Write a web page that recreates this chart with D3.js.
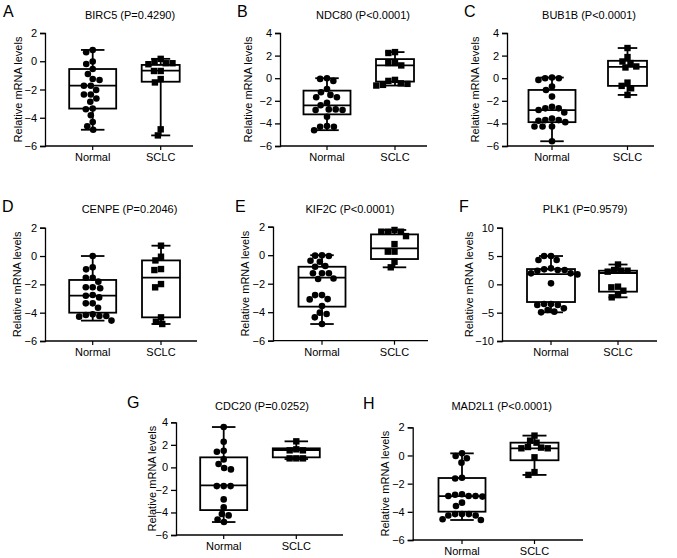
<!DOCTYPE html>
<html>
<head>
<meta charset="utf-8">
<script src="https://cdn.jsdelivr.net/npm/d3@7"></script>
<style>
  html, body { margin: 0; padding: 0; background: #fff; }
  svg { display: block; font-family: "Liberation Sans", Arial, sans-serif; }
</style>
</head>
<body>
<svg id="chart" width="677" height="558"></svg>
<script>
// ---------------- DATA ----------------
const groups = ["Normal", "SCLC"];
const panelLetters = ["A", "B", "C", "D", "E", "F", "G", "H"];
const panelTitles = [
  "BIRC5 (P=0.4290)", "NDC80 (P<0.0001)", "BUB1B (P<0.0001)",
  "CENPE (P=0.2046)", "KIF2C (P<0.0001)", "PLK1 (P=0.9579)",
  "CDC20 (P=0.0252)", "MAD2L1 (P<0.0001)"
];
const yDomains = [[-6, 2], [-6, 4], [-6, 4], [-6, 2], [-6, 2], [-10, 10], [-6, 4], [-6, 2]];
const yTicks = [
  [-6, -4, -2, 0, 2], [-6, -4, -2, 0, 2, 4], [-6, -4, -2, 0, 2, 4],
  [-6, -4, -2, 0, 2], [-6, -4, -2, 0, 2], [-10, -5, 0, 5, 10],
  [-6, -4, -2, 0, 2, 4], [-6, -4, -2, 0, 2]
];
const yLabel = "Relative mRNA levels";

// individual values per panel: [Normal, SCLC]
const normalValues = [
  [0.8, 0.64, -0.02, -0.19, -0.55, -0.9, -1.26, -1.33, -1.73, -1.73, -2.04, -2.35, -2.35, -2.64, -2.87, -3.35, -3.4, -3.82, -4.3, -4.6, -4.85],
  [0.0, -0.06, -0.24, -0.95, -1.25, -1.48, -1.69, -1.69, -2.17, -2.4, -2.76, -2.76, -2.82, -2.82, -3.41, -4.24, -4.3, -4.3, -4.6],
  [0.06, 0, 0, -0.15, -0.74, -1.04, -1.63, -2.52, -2.67, -2.67, -2.82, -3.03, -3.56, -3.71, -3.71, -3.77, -3.89, -4.27, -4.27, -4.27, -5.58],
  [0, -0.8, -0.94, -1.53, -1.53, -1.81, -2.21, -2.21, -2.28, -2.75, -2.8, -2.92, -3.34, -3.34, -3.65, -4.12, -4.16, -4.24, -4.24, -4.28, -4.56],
  [0, -0.03, -0.06, -0.39, -0.46, -0.76, -0.81, -1.27, -1.27, -1.27, -1.63, -1.67, -2.8, -2.8, -3.08, -3.1, -3.57, -4.03, -4.13, -4.36, -4.83],
  [5.0, 5.0, 4.3, 4.3, 2.82, 2.65, 2.53, 2.53, 2.41, 1.94, 1.94, 1.76, 0.18, -3.47, -3.47, -3.65, -3.65, -4.24, -4.53, -4.82, -4.94],
  [3.58, 2.28, 1.48, 1.39, 0.71, 0.3, -0.06, -0.18, -1.66, -1.66, -1.66, -2.84, -3.55, -4.14, -4.26, -4.62, -4.85],
  [0.15, -0.04, -0.2, -0.51, -1.58, -1.63, -2.75, -2.79, -2.88, -2.88, -2.88, -2.92, -3.35, -3.59, -4.16, -4.16, -4.16, -4.26, -4.26, -4.53, -4.58]
];
const sclcValues = [
  [0.17, -0.02, -0.14, -0.14, -0.21, -0.69, -0.69, -1.26, -1.5, -4.82, -5.25],
  [2.31, 2.23, 1.34, 1.34, 1.13, -0.15, -0.24, -0.45, -0.5, -0.59, -0.65],
  [2.67, 1.87, 1.48, 1.34, 1.04, 0.95, -0.39, -0.68, -0.89, -1.48],
  [0.73, -0.05, -0.31, -0.92, -0.99, -1.98, -2.21, -4.33, -4.64, -4.8],
  [1.77, 1.65, 1.65, 1.65, 1.34, 0.78, 0.25, 0.25, -0.46, -0.85],
  [3.5, 2.53, 2.41, 2.41, 2.24, -0.41, -0.53, -1.12, -1.88, -2.29],
  [2.31, 1.6, 1.51, 1.51, 0.8, 0.8, 0.8],
  [1.41, 1.05, 0.91, 0.6, 0.56, 0.51, 0.51, -0.13, -1.18, -1.38]
];
// box statistics [min, q1, median, q3, max]
const normalBoxes = [
  [-4.85, -3.35, -1.73, -0.55, 0.8],
  [-4.6, -3.2, -2.4, -1.1, 0.0],
  [-5.58, -3.89, -2.82, -1.04, 0.06],
  [-4.56, -4.0, -2.8, -1.69, 0],
  [-4.83, -3.61, -1.58, -0.81, 0],
  [-4.94, -3.12, 1.82, 2.7, 5.0],
  [-4.85, -3.79, -1.6, 0.89, 3.58],
  [-4.58, -3.99, -2.88, -1.6, 0.15]
];
const sclcBoxes = [
  [-5.25, -1.45, -0.67, -0.26, 0.17],
  [-0.65, -0.3, 1.13, 1.69, 2.31],
  [-1.48, -0.68, 1.0, 1.54, 2.67],
  [-4.8, -4.33, -1.53, -0.31, 0.73],
  [-0.85, -0.27, 0.48, 1.46, 1.77],
  [-2.29, -1.29, 2.0, 2.41, 3.5],
  [0.74, 0.89, 1.54, 1.69, 2.31],
  [-1.38, -0.34, 0.51, 0.91, 1.41]
];

// ---------------- LAYOUT ----------------
const layout = [
  {ax: 45,    yTop: 33,    yBot: 146,   xEnd: 193, cN: 92.7,  cS: 160.7, bwN: 47, bwS: 38, tx: 130,   ty: 19,  lx: 3,   ly: 17,  labOff: 27},
  {ax: 280,   yTop: 33,    yBot: 146,   xEnd: 427, cN: 327,   cS: 395,   bwN: 47, bwS: 38, tx: 363,   ty: 19,  lx: 237, ly: 17,  labOff: 32},
  {ax: 507,   yTop: 33,    yBot: 146,   xEnd: 654, cN: 552,   cS: 627.5, bwN: 47, bwS: 39, tx: 589,   ty: 19,  lx: 464, ly: 17,  labOff: 32},
  {ax: 45,    yTop: 227.7, yBot: 341,   xEnd: 197, cN: 92.7,  cS: 161,   bwN: 47, bwS: 38, tx: 129.5, ty: 213, lx: 2,   ly: 212, labOff: 28},
  {ax: 273,   yTop: 226.7, yBot: 340.7, xEnd: 428, cN: 322,   cS: 394.5, bwN: 47, bwS: 47, tx: 350,   ty: 213, lx: 235, ly: 212, labOff: 28},
  {ax: 502,   yTop: 227.7, yBot: 341,   xEnd: 657, cN: 551,   cS: 618,   bwN: 48, bwS: 38, tx: 585,   ty: 213, lx: 459, ly: 212, labOff: 33},
  {ax: 176,   yTop: 422.3, yBot: 535,   xEnd: 343, cN: 223.7, cS: 296.3, bwN: 47, bwS: 47, tx: 262,   ty: 410, lx: 127, ly: 408, labOff: 24},
  {ax: 412.7, yTop: 427.3, yBot: 540,   xEnd: 583, cN: 462,   cS: 534.5, bwN: 47, bwS: 48, tx: 501.7, ty: 410, lx: 363, ly: 409, labOff: 28}
];

const svg = d3.select("#chart");
const R = 3.3;      // circle radius
const SQ = 6.4;     // square side

// simple deterministic beeswarm: returns x offsets
function swarm(vals, y, diam) {
  const order = vals.map((v, i) => i).sort((a, b) => vals[b] - vals[a]);
  const placed = [];
  const offs = new Array(vals.length).fill(0);
  order.forEach(i => {
    const py = y(vals[i]);
    const intervals = [];
    placed.forEach(p => {
      const dy = Math.abs(p.y - py);
      if (dy < diam) {
        const dx = Math.sqrt(diam * diam - dy * dy);
        intervals.push([p.x - dx, p.x + dx]);
      }
    });
    const cands = [0];
    intervals.forEach(iv => { cands.push(iv[0], iv[1]); });
    cands.sort((a, b) => Math.abs(a) - Math.abs(b) || a - b);
    let best = 0;
    for (const c of cands) {
      if (intervals.every(iv => c <= iv[0] + 1e-6 || c >= iv[1] - 1e-6)) { best = c; break; }
    }
    offs[i] = best;
    placed.push({x: best, y: py});
  });
  return offs;
}

layout.forEach((L, k) => {
  const g = svg.append("g");
  const y = d3.scaleLinear().domain(yDomains[k]).range([L.yBot, L.yTop]);
  const x = d3.scalePoint().domain(groups).range([L.cN, L.cS]);

  // panel letter
  g.append("text").attr("x", L.lx).attr("y", L.ly)
    .attr("font-size", 16).attr("fill", "#000").text(panelLetters[k]);
  // title
  g.append("text").attr("x", L.tx).attr("y", L.ty)
    .attr("text-anchor", "middle").attr("font-size", 11).attr("fill", "#000")
    .text(panelTitles[k]);

  // y axis
  const yAxis = d3.axisLeft(y).tickValues(yTicks[k]).tickSize(5).tickPadding(3)
    .tickFormat(d3.format("d"));
  const ga = g.append("g").attr("transform", `translate(${L.ax},0)`).call(yAxis);
  ga.select(".domain").attr("stroke", "#000").attr("stroke-width", 1.3);
  ga.selectAll(".tick line").attr("stroke", "#000").attr("stroke-width", 1.3);
  ga.selectAll(".tick text").attr("font-size", 11).attr("fill", "#000")
    .attr("font-family", "Liberation Sans, Arial, sans-serif");

  // x axis
  const xs = d3.scaleLinear().domain([0, 1]).range([L.ax, L.xEnd]);
  g.append("line").attr("x1", xs(0)).attr("x2", xs(1)).attr("y1", L.yBot).attr("y2", L.yBot)
    .attr("stroke", "#000").attr("stroke-width", 1.3);
  groups.forEach(gr => {
    g.append("line").attr("x1", x(gr)).attr("x2", x(gr)).attr("y1", L.yBot).attr("y2", L.yBot + 4)
      .attr("stroke", "#000").attr("stroke-width", 1.2);
    g.append("text").attr("x", x(gr)).attr("y", L.yBot + 15)
      .attr("text-anchor", "middle").attr("font-size", 11).attr("fill", "#000").text(gr);
  });

  // y label
  const cy = (L.yTop + L.yBot) / 2;
  g.append("text")
    .attr("transform", `translate(${L.ax - L.labOff},${cy}) rotate(-90)`)
    .attr("text-anchor", "middle").attr("dominant-baseline", "central")
    .attr("font-size", 11).attr("fill", "#000").text(yLabel);

  // boxes
  const boxes = [normalBoxes[k], sclcBoxes[k]];
  const widths = [L.bwN, L.bwS];
  groups.forEach((gr, gi) => {
    const b = boxes[gi], w = widths[gi], cx = x(gr), cap = w * 0.5;
    const bg = g.append("g").attr("stroke", "#000").attr("stroke-width", 1.8).attr("fill", "none");
    bg.append("line").attr("x1", cx).attr("x2", cx).attr("y1", y(b[4])).attr("y2", y(b[3]));
    bg.append("line").attr("x1", cx).attr("x2", cx).attr("y1", y(b[1])).attr("y2", y(b[0]));
    bg.append("line").attr("x1", cx - cap / 2).attr("x2", cx + cap / 2).attr("y1", y(b[4])).attr("y2", y(b[4]));
    bg.append("line").attr("x1", cx - cap / 2).attr("x2", cx + cap / 2).attr("y1", y(b[0])).attr("y2", y(b[0]));
    bg.append("rect").attr("x", cx - w / 2).attr("y", y(b[3]))
      .attr("width", w).attr("height", y(b[1]) - y(b[3]));
    bg.append("line").attr("x1", cx - w / 2).attr("x2", cx + w / 2).attr("y1", y(b[2])).attr("y2", y(b[2]));
  });

  // points
  const nv = normalValues[k], sv = sclcValues[k];
  const nOff = swarm(nv, y, 2 * R + 0.3);
  g.selectAll("circle.pt").data(nv).enter().append("circle")
    .attr("cx", (d, i) => x("Normal") + nOff[i]).attr("cy", d => y(d))
    .attr("r", R).attr("fill", "#000");
  const sOff = swarm(sv, y, SQ + 0.3);
  g.selectAll("rect.pt").data(sv).enter().append("rect")
    .attr("x", (d, i) => x("SCLC") + sOff[i] - SQ / 2).attr("y", d => y(d) - SQ / 2)
    .attr("width", SQ).attr("height", SQ).attr("fill", "#000");
});
</script>
</body>
</html>
